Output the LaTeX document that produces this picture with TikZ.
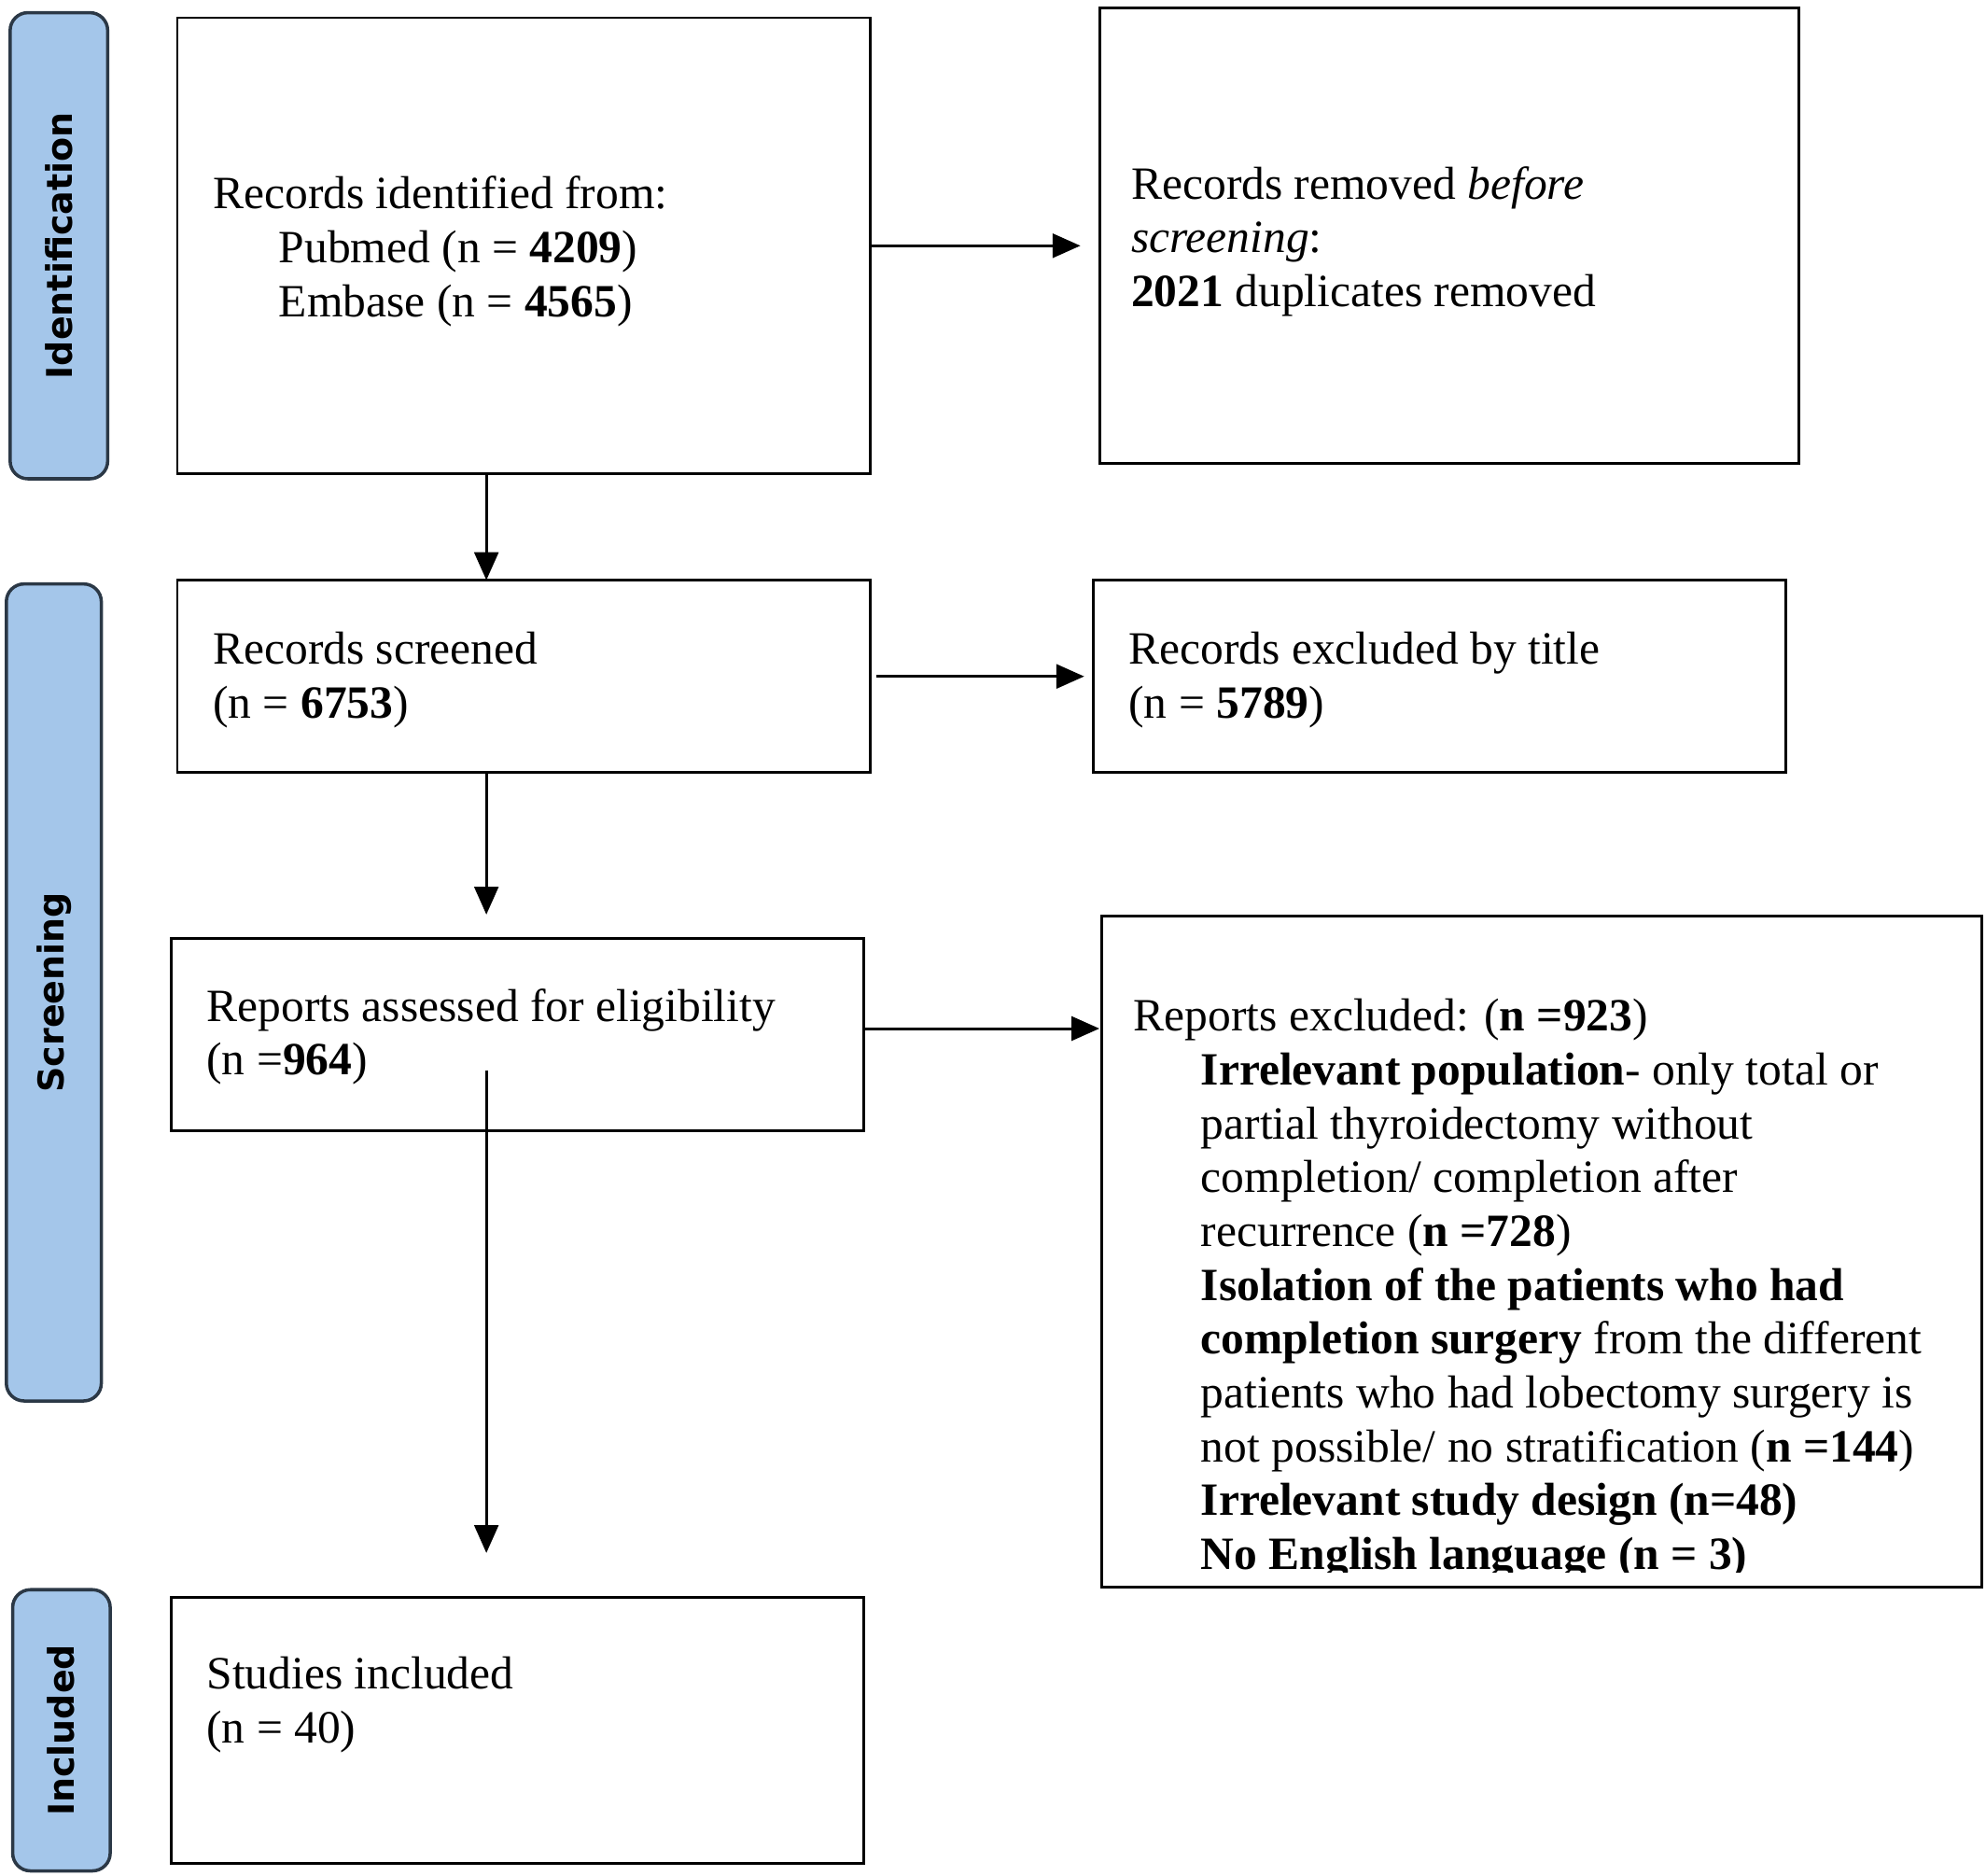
\documentclass[tikz,border=0pt]{standalone}
\usepackage{fontspec}
\setmainfont{Liberation Serif}
\newfontfamily\labelfont{DejaVu Sans}
\usetikzlibrary{arrows.meta,calc}
\definecolor{lblfill}{HTML}{A4C6EA}
\definecolor{lblline}{HTML}{2B3846}
\tikzset{
  box/.style={draw=black, line width=2.2pt, inner sep=0pt, outer sep=0pt, anchor=north west, fill=white},
  lbl/.style={draw=lblline, fill=lblfill, line width=2.6pt, rounded corners=14pt, inner sep=0pt, outer sep=0pt, anchor=north west},
  lbltext/.style={font=\labelfont\bfseries\fontsize{28}{34}\selectfont, rotate=90, inner sep=0pt},
  txt/.style={font=\fontsize{36.5}{42.5}\selectfont, align=left, inner sep=0pt, anchor=west},
  arr/.style={line width=2.2pt, -{Triangle[length=22pt,width=19pt]}}
}
\begin{document}
\begin{tikzpicture}[x=1pt,y=1pt]
\useasboundingbox (0,0) rectangle (1568,-1481);
% stage labels
\node[lbl, minimum width=77pt, minimum height=368pt] (l1) at (8,-10) {};
\node[lbltext] (l1t) at (l1.center) {Identification};
\node[lbl, minimum width=75pt, minimum height=645pt] (l2) at (5,-461) {};
\node[lbltext] (l2t) at (l2.center) {Screening};
\node[lbl, minimum width=77pt, minimum height=222pt] (l3) at (10,-1255) {};
\node[lbltext] (l3t) at (l3.center) {Included};
% boxes
\node[box, minimum width=547pt, minimum height=360pt] (b1) at (140,-14) {};
\node[box, minimum width=552pt, minimum height=360pt] (b2) at (868,-6) {};
\node[box, minimum width=547pt, minimum height=152pt] (b3) at (140,-458) {};
\node[box, minimum width=547pt, minimum height=152pt] (b4) at (863,-458) {};
\node[box, minimum width=547pt, minimum height=152pt] (b5) at (135,-741) {};
\node[box, minimum width=695pt, minimum height=530pt] (b6) at (870,-723) {};
\node[box, minimum width=547pt, minimum height=210pt] (b7) at (135,-1261) {};
% texts
\node[txt] (t1) at (168,-199) {\strut Records identified from:\\
  \hspace*{52pt}\strut Pubmed (n = \textbf{4209})\\
  \hspace*{52pt}\strut Embase (n = \textbf{4565})};
\node[txt] (t2) at (893,-191) {\strut Records removed \textit{before}\\
  \strut\textit{screening}:\\
  \strut\textbf{2021} duplicates removed};
\node[txt] (t3) at (168,-537) {\strut Records screened\\ \strut(n = \textbf{6753})};
\node[txt] (t4) at (891,-537) {\strut Records excluded by title\\ \strut(n = \textbf{5789})};
\node[txt] (t5) at (163,-819) {\strut Reports assessed for eligibility\\ \strut(n =\textbf{964})};
\begin{scope}
\clip (870,-723) rectangle (1565,-1241);
\node[txt] (t6) at (895,-1018) {\strut Reports excluded: (\textbf{n =923})\\
  \hspace*{53pt}\strut\textbf{Irrelevant population}- only total or\\
  \hspace*{53pt}\strut partial thyroidectomy without\\
  \hspace*{53pt}\strut completion/ completion after\\
  \hspace*{53pt}\strut recurrence (\textbf{n =728})\\
  \hspace*{53pt}\strut\textbf{Isolation of the patients who had}\\
  \hspace*{53pt}\strut\textbf{completion surgery} from the different\\
  \hspace*{53pt}\strut patients who had lobectomy surgery is\\
  \hspace*{53pt}\strut not possible/ no stratification (\textbf{n =144})\\
  \hspace*{53pt}\strut\textbf{Irrelevant study design (n=48)}\\
  \hspace*{53pt}\strut\textbf{No English language (n = 3)}};
\end{scope}
\node[txt] (t7) at (163,-1346) {\strut Studies included\\ \strut(n = 40)};
% connectors
\coordinate (p1) at ($(b1.south west)+(244,0)$);
\coordinate (p2) at ($(b3.south west)+(244,0)$);
\coordinate (p3) at ($(b5.south west)+(249,48)$);
\coordinate (q5) at ($(b5.east)+(0,5)$);
\draw[arr, shorten >=15pt] (b1.east) -- (b1.east -| b2.west);
\draw[arr] (p1) -- (p1 |- b3.north);
\draw[arr, shorten <=5pt, shorten >=7pt] (b3.east) -- (b3.east -| b4.west);
\draw[arr, shorten >=19pt] (p2) -- (p2 |- b5.north);
\draw[arr, shorten >=2pt] (q5) -- (q5 -| b6.west);
\draw[arr, shorten >=35pt] (p3) -- (p3 |- b7.north);
\end{tikzpicture}
\end{document}
